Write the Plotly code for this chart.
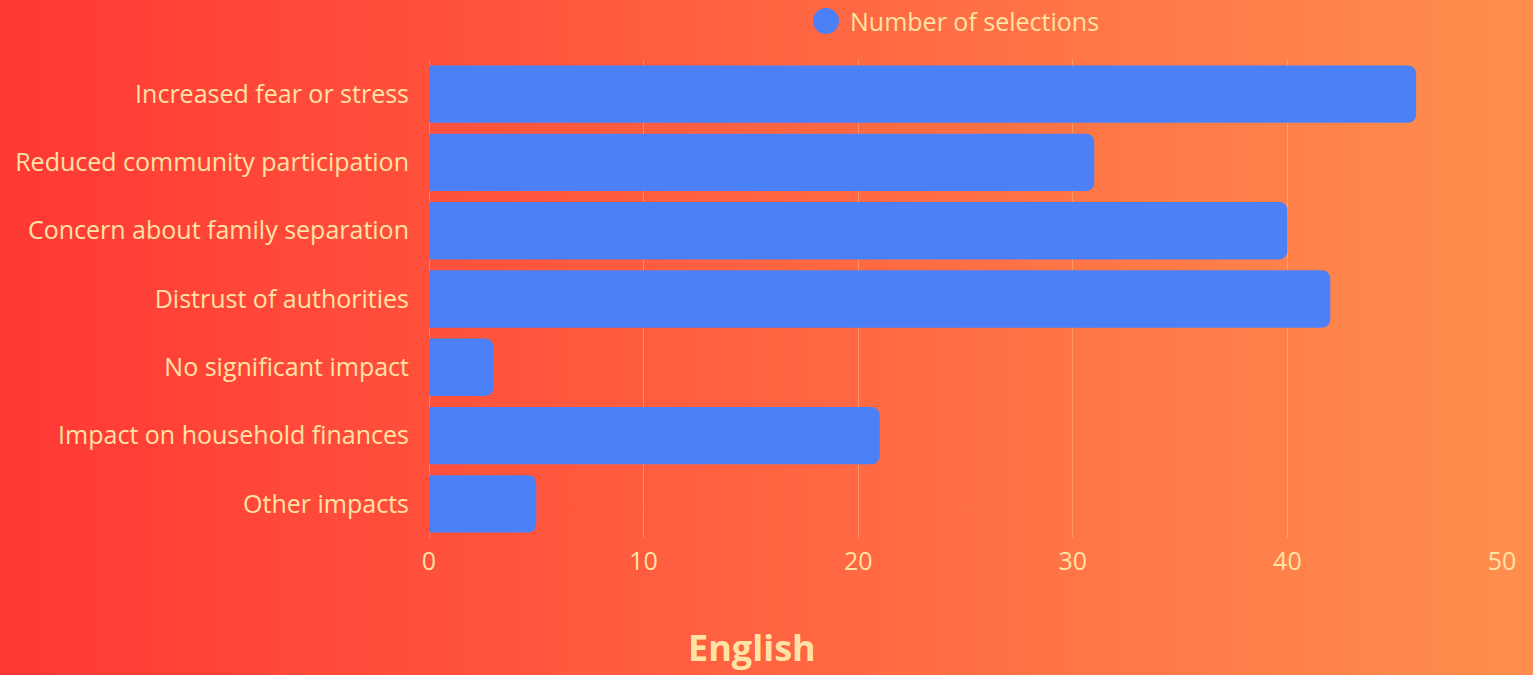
import base64
import plotly.graph_objects as go

categories = [
    "Increased fear or stress",
    "Reduced community participation",
    "Concern about family separation",
    "Distrust of authorities",
    "No significant impact",
    "Impact on household finances",
    "Other impacts",
]
selections = [46, 31, 40, 42, 3, 21, 5]
x_ticks = [0, 10, 20, 30, 40, 50]
series_name = "Number of selections"
chart_title = "English"

W, H = 1533, 675
ML, MR, MT, MB = 429, 31, 60, 137
PW, PH = W - ML - MR, H - MT - MB

TEXT = "#FFE3A6"
BAR = "#4B80F7"
FONT = "Open Sans"
FS = 25

svg = (
    '<svg xmlns="http://www.w3.org/2000/svg" width="1533" height="675" preserveAspectRatio="none">'
    '<defs><linearGradient id="g" x1="0" y1="0" x2="1" y2="0">'
    '<stop offset="0" stop-color="#FF3834"/><stop offset="1" stop-color="#FF8F4E"/>'
    '</linearGradient></defs><rect width="1533" height="675" fill="url(#g)"/></svg>'
)
bg_uri = "data:image/svg+xml;base64," + base64.b64encode(svg.encode()).decode()


def px_x(p):
    return (p - ML) / PW


def px_y(p):
    return 1 - (p - MT) / PH


fig = go.Figure()
fig.add_trace(go.Bar(
    x=selections, y=categories, orientation="h",
    marker=dict(color=BAR, line=dict(width=0)),
    name=series_name, showlegend=False,
))

# legend drawn as circle + label
lx, ly, lr = 826, 21, 13
fig.add_shape(
    type="circle", xref="paper", yref="paper",
    x0=px_x(lx - lr), x1=px_x(lx + lr), y0=px_y(ly + lr), y1=px_y(ly - lr),
    fillcolor=BAR, line=dict(width=0),
)

fig.update_layout(
    width=W, height=H,
    margin=dict(l=ML, r=MR, t=MT, b=MB),
    paper_bgcolor="#FF6340",
    plot_bgcolor="rgba(0,0,0,0)",
    font=dict(family=FONT, color=TEXT, size=FS),
    bargap=0.16,
    barcornerradius=8,
    showlegend=False,
    images=[dict(
        source=bg_uri, xref="paper", yref="paper",
        x=-ML / PW, y=1 + MT / PH, sizex=W / PW, sizey=H / PH,
        xanchor="left", yanchor="top", sizing="stretch", layer="below",
    )],
    annotations=[
        dict(
            text=series_name, xref="paper", yref="paper",
            x=px_x(848), y=px_y(ly), xanchor="left", yanchor="middle",
            showarrow=False, font=dict(family=FONT, size=FS, color=TEXT),
        ),
        dict(
            text="<b>" + chart_title + "</b>", xref="paper", yref="paper",
            x=px_x(752), y=px_y(647), xanchor="center", yanchor="middle",
            showarrow=False, font=dict(family=FONT, size=36, color=TEXT),
        ),
    ],
)

fig.update_xaxes(
    range=[0, 50], tickvals=x_ticks, showgrid=True,
    gridcolor="rgba(255,225,170,0.35)", gridwidth=1,
    zeroline=True, zerolinecolor="rgba(255,225,170,0.35)", zerolinewidth=1,
    showline=False, ticks="outside", ticklen=1, tickcolor="rgba(0,0,0,0)",
    tickfont=dict(size=FS, color=TEXT), fixedrange=True,
)
fig.update_yaxes(
    categoryorder="array", categoryarray=categories, autorange="reversed",
    showgrid=False, showline=False, ticks="outside", ticklen=14,
    tickcolor="rgba(0,0,0,0)", tickfont=dict(size=FS, color=TEXT), fixedrange=True,
)

fig.write_html(
    "out.html",
    config={"displayModeBar": False},
    post_script="document.body.style.margin='0';document.body.style.overflow='hidden';",
)
